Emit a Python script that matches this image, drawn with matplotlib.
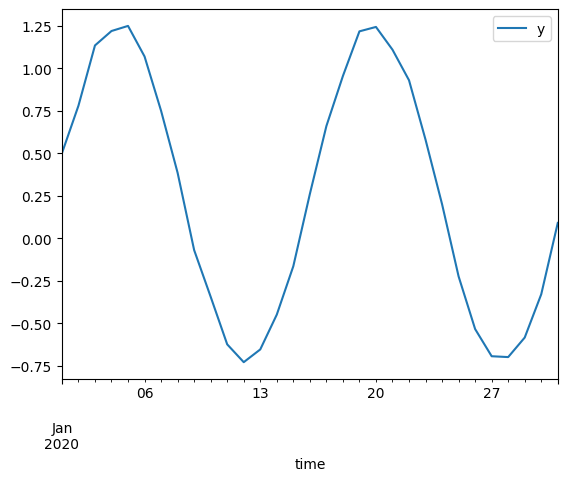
import matplotlib
matplotlib.use("Agg")
import matplotlib.pyplot as plt
import pandas as pd

dates = pd.date_range("2020-01-01", "2020-01-31", freq="D")
y_values = [0.50, 0.78, 1.135, 1.22, 1.25, 1.07, 0.75, 0.385, -0.07, -0.345,
            -0.625, -0.73, -0.655, -0.45, -0.165, 0.26, 0.66, 0.955, 1.218, 1.244,
            1.11, 0.93, 0.58, 0.20, -0.225, -0.535, -0.695, -0.70, -0.585, -0.33,
            0.09]

df = pd.DataFrame({"y": y_values}, index=pd.Index(dates, name="time"))

fig, ax = plt.subplots(figsize=(5.68, 4.81), dpi=100)
fig.subplots_adjust(left=0.109, right=0.982, top=0.979, bottom=0.21)
df.plot(ax=ax)
fig.savefig("out.png", dpi=100)
